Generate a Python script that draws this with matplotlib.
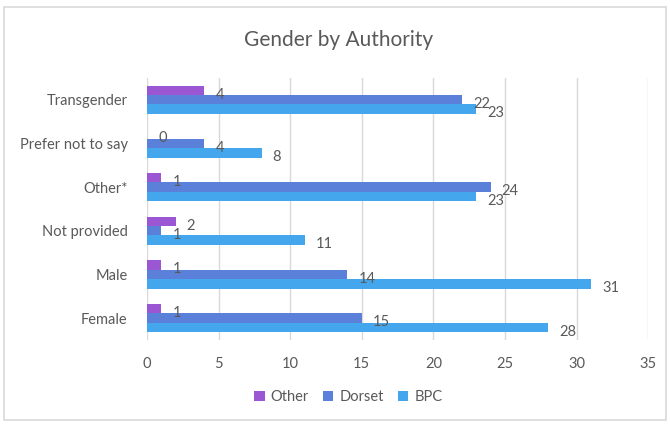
import numpy as np
import matplotlib
matplotlib.use("Agg")
from matplotlib import pyplot as plt
from matplotlib.patches import Rectangle

plt.rcParams['font.family'] = ['Lato', 'DejaVu Sans']

categories = ['Female', 'Male', 'Not provided', 'Other*', 'Prefer not to say', 'Transgender']
other = [1, 1, 2, 1, 0, 4]
dorset = [15, 14, 1, 24, 4, 22]
bpc = [28, 31, 11, 23, 8, 23]

series_names = ['Other', 'Dorset', 'BPC']
colors = ['#9B57D3', '#5B80D9', '#44A6EC']
text_col = '#595959'

fig = plt.figure(figsize=(6.7, 4.26), dpi=100)
ax = fig.add_axes([0.2194, 0.202, 0.748, 0.615])

# chart border
fig.patches.append(Rectangle((0.006, 0.014), 0.988, 0.97, transform=fig.transFigure,
                             fill=False, edgecolor='#D9D9D9', linewidth=1.2))

y = np.arange(len(categories))
h = 0.215
offsets = [h, 0, -h]
for vals, name, col, off in zip([other, dorset, bpc], series_names, colors, offsets):
    bars = ax.barh(y + off, vals, height=h, color=col, label=name, zorder=3)
    for b, v in zip(bars, vals):
        ax.annotate(str(v), (b.get_width(), b.get_y() + b.get_height() / 2),
                    xytext=(8, -3), textcoords='offset points',
                    ha='left', va='center', fontsize=10.5, color=text_col, zorder=4)

ax.set_xlim(0, 35)
ax.set_ylim(-0.5, 5.5)
ax.set_xticks(range(0, 36, 5))
ax.set_yticks(y)
ax.set_yticklabels(categories)
ax.tick_params(axis='both', length=0, labelsize=10.5, labelcolor=text_col)
ax.tick_params(axis='y', pad=14)
ax.tick_params(axis='x', pad=12)
ax.grid(axis='x', color='#D9D9D9', linewidth=1, zorder=0)
for s in ax.spines.values():
    s.set_visible(False)

fig.text(0.505, 0.905, 'Gender by Authority', ha='center', va='center',
         fontsize=15, color=text_col)

leg = fig.legend(loc='center', bbox_to_anchor=(0.52, 0.068), ncol=3, frameon=False,
                 fontsize=10.5, handlelength=0.7, handleheight=0.7, columnspacing=1.0,
                 handletextpad=0.4)
for t in leg.get_texts():
    t.set_color(text_col)

fig.savefig('out.png', dpi=100)
